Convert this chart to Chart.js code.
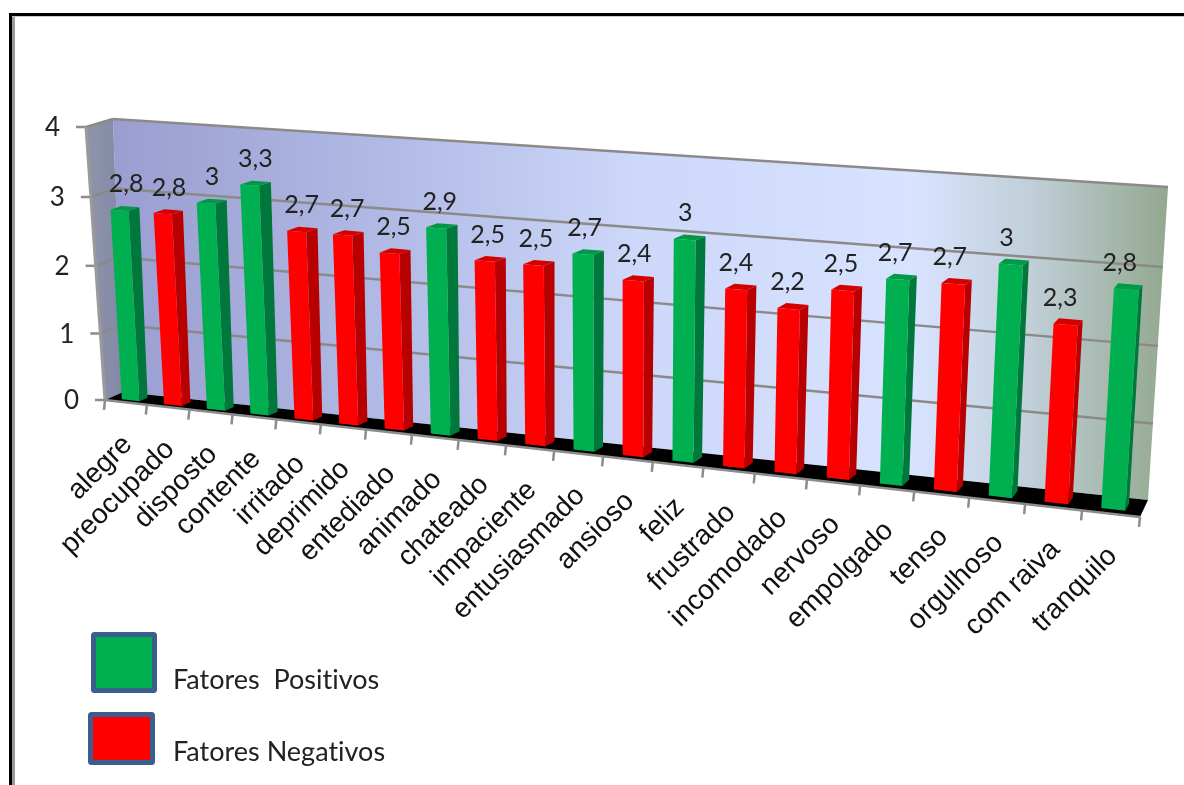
<!DOCTYPE html>
<html lang="pt">
<head>
<meta charset="utf-8">
<title>Fatores positivos e negativos</title>
<style>
html,body{margin:0;padding:0;background:#fff}
canvas{display:block}
</style>
<script src="https://cdn.jsdelivr.net/npm/chart.js@4/dist/chart.umd.js"></script>
</head>
<body>
<canvas id="c" width="1184" height="785"></canvas>
<script>
// Chart values
const categories = ["alegre","preocupado","disposto","contente","irritado","deprimido","entediado","animado","chateado","impaciente","entusiasmado","ansioso","feliz","frustrado","incomodado","nervoso","empolgado","tenso","orgulhoso","com raiva","tranquilo"];
const positivos = [2.8,null,3,3.3,null,null,null,2.9,null,null,2.7,null,3,null,null,null,2.7,null,3,null,2.8];
const negativos = [null,2.8,null,null,2.7,2.7,2.5,null,2.5,2.5,null,2.4,null,2.4,2.2,2.5,null,2.7,null,2.3,null];

// Corners of the chart box on screen: [bottom-left, bottom-right, top-right, top-left]
const backPlane  = [[123,392],[1148,500],[1168,187],[113,119]];
const frontPlane = [[105,400],[1140,517],[1160,196],[86,127]];
const barDepthBack = 0.3, barDepthFront = 0.74;

// Unit square to quadrilateral homography
function homography(q){
  const [[x0,y0],[x1,y1],[x2,y2],[x3,y3]] = q;
  const dx1=x1-x2, dx2=x3-x2, sx=x0-x1+x2-x3;
  const dy1=y1-y2, dy2=y3-y2, sy=y0-y1+y2-y3;
  const den=dx1*dy2-dx2*dy1;
  const g=(sx*dy2-dx2*sy)/den, h=(dx1*sy-sx*dy1)/den;
  const a=x1-x0+g*x1, b=x3-x0+h*x3, c=x0;
  const d=y1-y0+g*y1, e=y3-y0+h*y3, f=y0;
  return (u,v)=>{const w=g*u+h*v+1;return [(a*u+b*v+c)/w,(d*u+e*v+f)/w];};
}
const hBack=homography(backPlane), hFront=homography(frontPlane);
// u: along the categories, v: along the value axis, d: 0 at the back wall, 1 at the front
function project(u,v,d){
  const p=hBack(u,v), q=hFront(u,v);
  return [p[0]+(q[0]-p[0])*d, p[1]+(q[1]-p[1])*d];
}
function poly(ctx,pts,fill){
  ctx.beginPath();
  pts.forEach((p,i)=>i?ctx.lineTo(p[0],p[1]):ctx.moveTo(p[0],p[1]));
  ctx.closePath();
  if(fill){ctx.fillStyle=fill;ctx.fill();}
}
function line(ctx,a,b,color,w){
  ctx.beginPath();ctx.moveTo(a[0],a[1]);ctx.lineTo(b[0],b[1]);
  ctx.strokeStyle=color;ctx.lineWidth=w;ctx.stroke();
}
const shades={ "#00b050":{side:"#00783c",top:"#009a46"}, "#ff0000":{side:"#b80000",top:"#d40000"} };
let plotArea=null;

// Bars are drawn as prisms placed through the perspective box
Chart.BarElement.prototype.draw=function(ctx){
  const area=plotArea;
  const {x,y,base,width}=this.getProps(['x','y','base','width'],true);
  const U=px=>(px-area.left)/(area.right-area.left), V=py=>(area.bottom-py)/(area.bottom-area.top);
  const ul=U(x-width/2), ur=U(x+width/2), v0=V(base), v1=V(y);
  const d0=barDepthBack, d1=barDepthFront;
  const col=this.options.backgroundColor, s=shades[col];
  poly(ctx,[project(ur,v0,d1),project(ur,v0,d0),project(ur,v1,d0),project(ur,v1,d1)],s.side);
  poly(ctx,[project(ul,v1,d1),project(ur,v1,d1),project(ur,v1,d0),project(ul,v1,d0)],s.top);
  poly(ctx,[project(ul,v0,d1),project(ur,v0,d1),project(ur,v1,d1),project(ul,v1,d1)],col);
};

const box3d={
  id:'box3d',
  beforeDatasetsDraw(chart){
    plotArea=chart.chartArea;
    const ctx=chart.ctx, yS=chart.scales.y;
    ctx.save();
    // frame
    ctx.fillStyle="#000";ctx.fillRect(9,13,1175,3);ctx.fillRect(9,13,3,772);
    ctx.fillStyle="#9a9a9a";ctx.fillRect(12,16,3,769);ctx.fillStyle="#c8c8c8";ctx.fillRect(12,16,1172,1);
    // back wall
    const g=ctx.createLinearGradient(113,0,1168,0);
    g.addColorStop(0,"#9a9dd0");g.addColorStop(.25,"#b0b9e4");g.addColorStop(.5,"#cdd8fa");
    g.addColorStop(.76,"#d8e3ff");g.addColorStop(.87,"#c0cfd8");g.addColorStop(1,"#93a88f");
    poly(ctx,[project(0,0,0),project(1,0,0),project(1,1,0),project(0,1,0)],g);
    // side wall
    const sg=ctx.createLinearGradient(86,0,123,0);
    sg.addColorStop(0,"#8f95a8");sg.addColorStop(1,"#8388a8");
    poly(ctx,[project(0,0,1),project(0,0,0),project(0,1,0),project(0,1,1)],sg);
    // floor
    poly(ctx,[project(0,0,1),project(1,0,1),project(1,0,0),project(0,0,0)],"#000");
    // gridlines and value axis
    ctx.lineCap="butt";
    yS.ticks.forEach(t=>{
      const v=t.value/yS.max;
      if(t.value>0){
        line(ctx,project(0,v,0),project(1,v,0),"#8c8a88",2.5);
        line(ctx,project(0,v,1),project(0,v,0),"#8c8a88",2.5);
      }
      const p=project(0,v,1);
      line(ctx,[p[0]-10,p[1]],p,"#8c8c8c",2.5);
      ctx.fillStyle="#222";ctx.font='26px Lato';ctx.textAlign="right";ctx.textBaseline="middle";
      ctx.fillText(String(t.value),p[0]-26,p[1]+1);
    });
    line(ctx,project(0,0,1),project(0,1,1),"#9a9a9a",3);
    line(ctx,project(1,0,1),project(0,0,1),"#8c8c8c",2.5);
    // category ticks
    for(let i=0;i<=categories.length;i++){
      const p=project(i/categories.length,0,1);
      line(ctx,p,[p[0]-1,p[1]+10],"#8c8c8c",2.5);
    }
    ctx.restore();
  },
  afterDatasetsDraw(chart){
    const ctx=chart.ctx, area=chart.chartArea;
    ctx.save();
    // value labels above the bars
    ctx.font='25px Lato';ctx.fillStyle="#222";ctx.textAlign="center";ctx.textBaseline="middle";
    chart.data.datasets.forEach((ds,di)=>{
      chart.getDatasetMeta(di).data.forEach((el,i)=>{
        if(ds.data[i]==null)return;
        const u=(el.x-area.left)/(area.right-area.left), v=(area.bottom-el.y)/(area.bottom-area.top);
        const p=project(u,v,.5);
        ctx.fillText(String(ds.data[i]).replace('.',','),p[0]+1-10*u,p[1]-24);
      });
    });
    // category labels
    ctx.font='28px "Liberation Sans"';ctx.fillStyle="#111";ctx.textAlign="right";ctx.textBaseline="middle";
    categories.forEach((c,i)=>{
      const p=project((i+.5)/categories.length,0,1);
      ctx.save();ctx.translate(p[0]+2,p[1]+38);ctx.rotate(-Math.PI/4);
      ctx.fillText(c,0,0);ctx.restore();
    });
    // legend
    const boxes=[[91,632,66,61,173,689],[88,712,67,53,173,761]];
    ctx.textRendering="optimizeSpeed";
    chart.data.datasets.forEach((ds,i)=>{
      const [x,y,w,h,tx,ty]=boxes[i];
      ctx.beginPath();ctx.roundRect(x+2.5,y+2.5,w-5,h-5,1);
      ctx.fillStyle=ds.backgroundColor;ctx.fill();
      ctx.strokeStyle="#3b5e8c";ctx.lineWidth=5;ctx.stroke();
      ctx.fillStyle="#222";ctx.font='27px Lato';ctx.textAlign="left";ctx.textBaseline="alphabetic";
      ctx.fillText(ds.label,tx,ty);
    });
    ctx.restore();
  }
};

new Chart(document.getElementById('c'),{
  type:'bar',
  data:{labels:categories,datasets:[
    {label:"Fatores  Positivos",data:positivos,backgroundColor:"#00b050"},
    {label:"Fatores Negativos",data:negativos,backgroundColor:"#ff0000"}
  ]},
  options:{
    responsive:false,animation:false,
    datasets:{bar:{grouped:false,categoryPercentage:1,barPercentage:.42}},
    plugins:{legend:{display:false},tooltip:{enabled:false}},
    scales:{
      x:{display:false},
      y:{display:false,min:0,max:4,ticks:{stepSize:1}}
    }
  },
  plugins:[box3d]
});
</script>
</body>
</html>
